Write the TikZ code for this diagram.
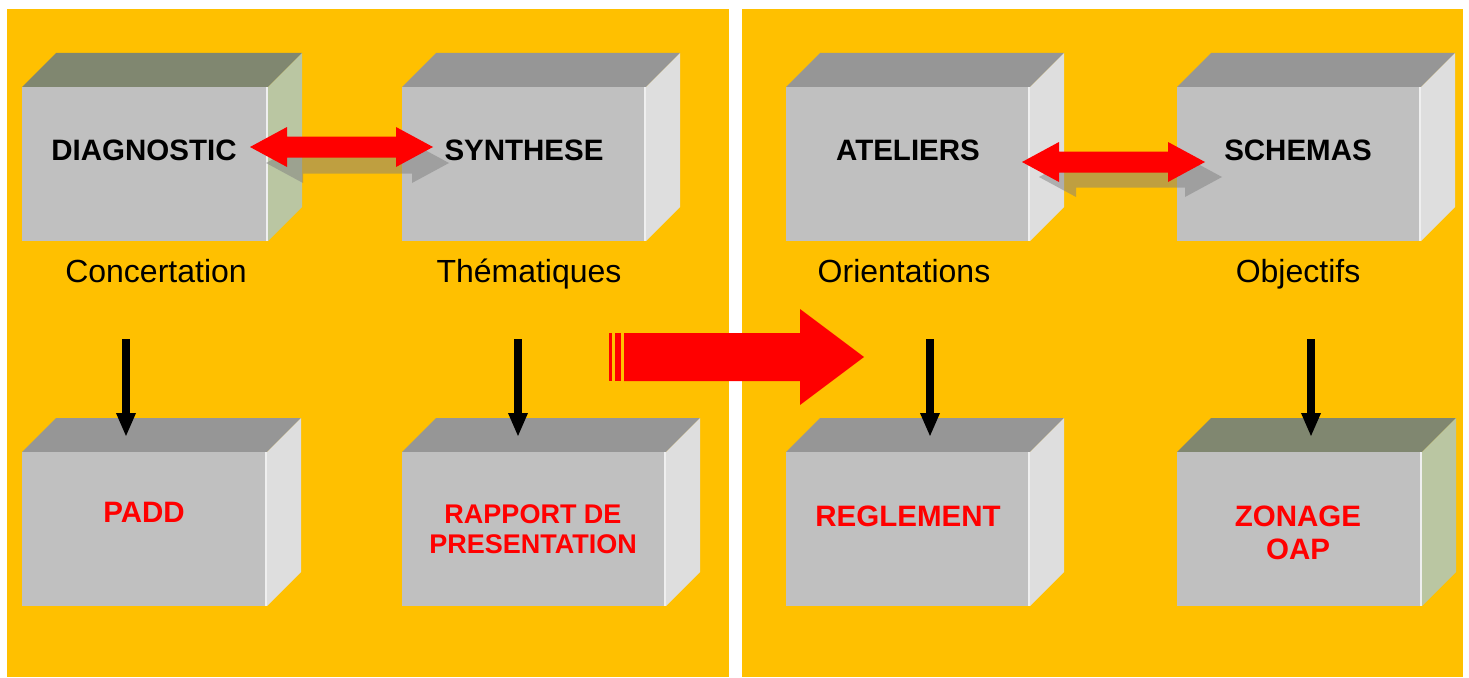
\documentclass[tikz,border=0pt]{standalone}
\usepackage{fontspec}
\setmainfont{Liberation Sans}
\usetikzlibrary{calc,fit,arrows.meta}
\definecolor{panelyellow}{RGB}{255,192,0}
\definecolor{boxfront}{RGB}{192,192,192}
\definecolor{boxtop}{RGB}{150,150,150}
\definecolor{boxside}{RGB}{222,222,222}
\definecolor{olivetop}{RGB}{128,135,112}
\definecolor{oliveside}{RGB}{186,198,162}
\definecolor{arrowred}{RGB}{255,0,0}
\definecolor{shadowgray}{RGB}{128,128,128}
\tikzset{
  panel/.style={fill=panelyellow},
  frontface/.style={fill=boxfront, inner sep=0pt, outer sep=0pt},
  graytop/.style={fill=boxtop},
  grayside/.style={fill=boxside},
  olivetopface/.style={fill=olivetop},
  olivesideface/.style={fill=oliveside},
  edgelight/.style={draw=white!75!boxfront, line width=2.2pt},
  titletext/.style={font=\bfseries\fontsize{29.5}{34}\selectfont, text=black, anchor=base, inner sep=0pt},
  subtext/.style={font=\fontsize{32}{38}\selectfont, text=black, anchor=base, inner sep=0pt},
  redtext/.style={font=\bfseries\fontsize{29.5}{34}\selectfont, text=arrowred, anchor=base, inner sep=0pt},
  redsmalltext/.style={font=\bfseries\fontsize{27}{30}\selectfont, text=arrowred, anchor=base, inner sep=0pt},
  redfill/.style={fill=arrowred},
  shadowfill/.style={fill=shadowgray, fill opacity=0.5},
  downarrow/.style={draw=black, line width=8pt, -{Triangle[width=18pt,length=24pt]}},
}
% #1 name, #2 x1, #3 y1, #4 x2, #5 y2, #6 top style, #7 side style
\newcommand\prismbox[7]{%
  \fill[#6] (#2,#3) -- ({#2+34},{#3-34}) -- ({#4+34},{#3-34}) -- (#4,#3) -- cycle;
  \fill[#7] (#4,#3) -- ({#4+34},{#3-34}) -- ({#4+34},{#5-34}) -- (#4,#5) -- cycle;
  \node[frontface, fit={(#2,#3) (#4,#5)}] (#1) {};
  \draw[edgelight] ([xshift=-1.2pt]#1.north east) -- ([xshift=-1.2pt]#1.south east);
}
% #1 left tip x, #2 right tip x, #3 y, #4 style
\newcommand\dblarrow[4]{%
  \fill[#4] (#1,#3) -- ({#1+37},{#3-20}) -- ({#1+37},{#3-10.5}) -- ({#2-37},{#3-10.5})
    -- ({#2-37},{#3-20}) -- (#2,#3) -- ({#2-37},{#3+20}) -- ({#2-37},{#3+10.5})
    -- ({#1+37},{#3+10.5}) -- ({#1+37},{#3+20}) -- cycle;
}
\begin{document}
\begin{tikzpicture}[x=1pt,y=-1pt]
\useasboundingbox (0,0) rectangle (1469,677);
\fill[white] (0,0) rectangle (1469,677);
% panels
\fill[panel] (7,9) rectangle (729,677);
\fill[panel] (742,9) rectangle (1463,677);
% boxes
\prismbox{diag}{22}{87}{268}{241}{olivetopface}{olivesideface}
\prismbox{synth}{402}{87}{646}{241}{graytop}{grayside}
\prismbox{atel}{786}{87}{1030}{241}{graytop}{grayside}
\prismbox{schem}{1177}{87}{1421}{241}{graytop}{grayside}
\prismbox{padd}{22}{452}{267}{606}{graytop}{grayside}
\prismbox{rapp}{402}{452}{666}{606}{graytop}{grayside}
\prismbox{regl}{786}{452}{1030}{606}{graytop}{grayside}
\prismbox{zon}{1177}{452}{1422}{606}{olivetopface}{olivesideface}
% double arrows with shadows
\dblarrow{266}{449}{163}{shadowfill}
\dblarrow{1039}{1222}{177}{shadowfill}
\dblarrow{250}{433}{147}{redfill}
\dblarrow{1022}{1205}{162}{redfill}
% titles
\node[titletext] (tdiag) at (144,160) {DIAGNOSTIC};
\node[titletext] (tsynth) at (524,160) {SYNTHESE};
\node[titletext] (tatel) at (908,160) {ATELIERS};
\node[titletext] (tschem) at (1298,160) {SCHEMAS};
% sub labels
\node[subtext] (sconc) at (156,282) {Concertation};
\node[subtext] (sthem) at (529,282) {Thématiques};
\node[subtext] (sori) at (904,282) {Orientations};
\node[subtext] (sobj) at (1298,282) {Objectifs};
% red labels
\node[redtext] (lpadd) at (144,522) {PADD};
\node[redsmalltext] (lrapp1) at (533,523) {RAPPORT DE};
\node[redsmalltext] (lrapp2) at (533,553) {PRESENTATION};
\node[redtext] (lregl) at (908,526) {REGLEMENT};
\node[redtext] (lzon1) at (1298,526) {ZONAGE};
\node[redtext] (lzon2) at (1298,559) {OAP};
% black down arrows
\coordinate (a1s) at (126,339); \coordinate (a1e) at (126,437);
\coordinate (a2s) at (518,339); \coordinate (a2e) at (518,437);
\coordinate (a3s) at (930,339); \coordinate (a3e) at (930,437);
\coordinate (a4s) at (1311,339); \coordinate (a4e) at (1311,437);
\draw[downarrow] (a1s) -- (a1e);
\draw[downarrow] (a2s) -- (a2e);
\draw[downarrow] (a3s) -- (a3e);
\draw[downarrow] (a4s) -- (a4e);
% big striped arrow
\fill[redfill] (609,333) rectangle (612,381);
\fill[redfill] (615,333) rectangle (621,381);
\fill[redfill] (624,333) -- (800,333) -- (800,309) -- (864,357) -- (800,405) -- (800,381) -- (624,381) -- cycle;
\end{tikzpicture}
\end{document}
